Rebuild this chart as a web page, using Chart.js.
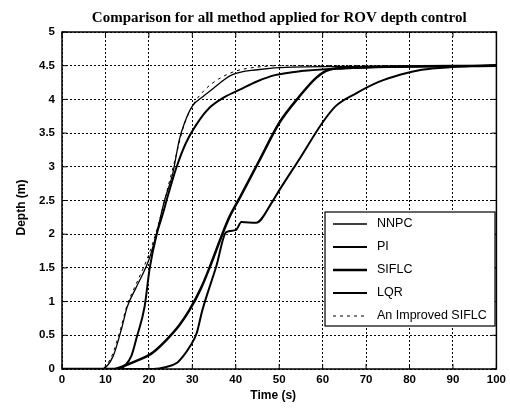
<!DOCTYPE html>
<html>
<head>
<meta charset="utf-8">
<script src="https://cdn.jsdelivr.net/npm/chart.js@4/dist/chart.umd.min.js"></script>
<style>
  html, body { margin: 0; padding: 0; background: #fff; }
  #wrap { width: 510px; height: 409px; }
</style>
</head>
<body>
<div id="wrap"><canvas id="depthChart" width="510" height="409"></canvas></div>
<script>
// series: time (s) and depth (m)
const nnpcTime = [0, 9, 11.7, 13.8, 15, 17, 20, 21.8, 23.6, 25.5, 27, 28.2, 30, 32.4, 34, 39, 45, 53, 100];
const nnpcDepth = [0, 0, 0.18, 0.62, 0.92, 1.2, 1.62, 2.02, 2.5, 2.9, 3.4, 3.65, 3.9, 4.04, 4.12, 4.36, 4.44, 4.48, 4.5];

const piTime = [0, 13, 14.5, 16, 17.2, 19, 20.2, 21.8, 23.2, 24.5, 26.4, 28.5, 31.7, 34, 37, 40.8, 45, 49, 55, 65, 75, 100];
const piDepth = [0, 0, 0.05, 0.2, 0.47, 0.92, 1.5, 2.0, 2.3, 2.6, 3.0, 3.35, 3.7, 3.88, 4.02, 4.14, 4.27, 4.36, 4.42, 4.46, 4.48, 4.5];

const siflcTime = [0, 12, 14.8, 18.6, 21, 24, 27, 29.4, 32, 34, 36.9, 38.5, 41, 45.4, 50, 54.6, 58.5, 61.5, 66, 100];
const siflcDepth = [0, 0, 0.06, 0.16, 0.25, 0.43, 0.65, 0.88, 1.2, 1.51, 2.0, 2.25, 2.55, 3.09, 3.65, 4.04, 4.32, 4.44, 4.47, 4.5];

const lqrTime = [0, 21, 24, 26.4, 28, 29.4, 31, 32.3, 35.5, 37.8, 40, 41.3, 44.7, 48.4, 50, 55, 59.9, 63, 67.7, 72.9, 78, 82.8, 89.7, 100];
const lqrDepth = [0, 0, 0.03, 0.09, 0.2, 0.33, 0.53, 0.87, 1.52, 2.03, 2.06, 2.18, 2.17, 2.48, 2.65, 3.15, 3.65, 3.9, 4.09, 4.26, 4.37, 4.44, 4.48, 4.51];

const impTime = [0, 9, 11.5, 13.5, 15, 17, 20, 22, 24, 26, 28, 30, 33, 36, 40, 45, 50, 100];
const impDepth = [0, 0, 0.2, 0.6, 0.95, 1.25, 1.7, 2.1, 2.6, 3.1, 3.6, 3.9, 4.15, 4.3, 4.42, 4.48, 4.5, 4.5];

const seriesLabels = ["NNPC", "PI", "SIFLC", "LQR", "An Improved SIFLC"];
const xTicks = [0, 10, 20, 30, 40, 50, 60, 70, 80, 90, 100];
const yTicks = [0, 0.5, 1, 1.5, 2, 2.5, 3, 3.5, 4, 4.5, 5];

const toPoints = (xs, ys) => xs.map((x, i) => ({ x: x, y: ys[i] }));

const styles = [
    { w: 1.3, dash: [] },
    { w: 2, dash: [] },
    { w: 2.5, dash: [] },
    { w: 2, dash: [] },
    { w: 1, dash: [3, 4] }
];
const pointSets = [
    toPoints(nnpcTime, nnpcDepth),
    toPoints(piTime, piDepth),
    toPoints(siflcTime, siflcDepth),
    toPoints(lqrTime, lqrDepth),
    toPoints(impTime, impDepth)
];

const datasets = seriesLabels.map((label, i) => ({
    label: label,
    data: pointSets[i],
    borderColor: "#000",
    borderWidth: styles[i].w,
    borderDash: styles[i].dash,
    pointRadius: 0,
    fill: false,
    cubicInterpolationMode: "monotone"
}));

const sans = "'Liberation Sans', Arial, sans-serif";

const frame = {
    id: "frame",
    afterDatasetsDraw(chart) {
        const { ctx, chartArea: a, scales } = chart;
        ctx.save();
        // axes box
        ctx.strokeStyle = "#000";
        ctx.lineWidth = 1.5;
        ctx.setLineDash([]);
        ctx.strokeRect(a.left, a.top, a.right - a.left, a.bottom - a.top);
        // inward ticks
        ctx.lineWidth = 1;
        xTicks.forEach(v => {
            const px = scales.x.getPixelForValue(v);
            ctx.beginPath();
            ctx.moveTo(px, a.bottom); ctx.lineTo(px, a.bottom - 5);
            ctx.moveTo(px, a.top); ctx.lineTo(px, a.top + 5);
            ctx.stroke();
        });
        yTicks.forEach(v => {
            const py = scales.y.getPixelForValue(v);
            ctx.beginPath();
            ctx.moveTo(a.left, py); ctx.lineTo(a.left + 5, py);
            ctx.moveTo(a.right, py); ctx.lineTo(a.right - 5, py);
            ctx.stroke();
        });

        // legend box
        const lx = 325, ly = 212, lw = 170, lh = 114;
        ctx.fillStyle = "#fff";
        ctx.fillRect(lx, ly, lw, lh);
        ctx.strokeStyle = "#000";
        ctx.lineWidth = 1.2;
        ctx.strokeRect(lx, ly, lw, lh);
        ctx.font = "12.5px " + sans;
        ctx.textBaseline = "middle";
        ctx.fillStyle = "#000";
        seriesLabels.forEach((label, i) => {
            const y = ly + 12 + i * 23;
            ctx.beginPath();
            ctx.lineWidth = styles[i].w;
            ctx.setLineDash(styles[i].dash);
            ctx.moveTo(333, y);
            ctx.lineTo(367, y);
            ctx.stroke();
            ctx.setLineDash([]);
            ctx.fillText(label, 377, y);
        });

        // title and axis titles
        ctx.textAlign = "center";
        ctx.textBaseline = "alphabetic";
        ctx.font = "bold 15px 'Liberation Serif', 'Times New Roman', serif";
        ctx.fillText("Comparison for all method applied for ROV depth control", (a.left + a.right) / 2, 22);
        ctx.font = "bold 12px " + sans;
        ctx.fillText("Time (s)", (a.left + a.right) / 2 - 6, 399);
        ctx.translate(25, (a.top + a.bottom) / 2 + 7);
        ctx.rotate(-Math.PI / 2);
        ctx.fillText("Depth (m)", 0, 0);
        ctx.restore();
    }
};

new Chart(document.getElementById("depthChart"), {
    type: "line",
    data: { datasets },
    options: {
        responsive: false,
        animation: false,
        layout: { padding: { left: 0, top: 32, right: 12, bottom: 0 } },
        plugins: { legend: { display: false }, title: { display: false }, tooltip: { enabled: false } },
        scales: {
            x: {
                type: "linear", min: 0, max: 100,
                afterFit: s => { s.height = 40; },
                afterBuildTicks: s => { s.ticks = xTicks.map(v => ({ value: v })); },
                ticks: { color: "#000", padding: 4, maxRotation: 0, callback: v => String(v), font: { family: sans, size: 11.5, weight: "bold" } },
                grid: { color: "#000", lineWidth: 1, drawTicks: false },
                border: { display: false, dash: [2, 2] }
            },
            y: {
                type: "linear", min: 0, max: 5,
                afterFit: s => { s.width = 62; },
                afterBuildTicks: s => { s.ticks = yTicks.map(v => ({ value: v })); },
                ticks: { color: "#000", padding: 7, callback: v => String(v), font: { family: sans, size: 11.5, weight: "bold" } },
                grid: { color: "#000", lineWidth: 1, drawTicks: false },
                border: { display: false, dash: [2, 2] }
            }
        }
    },
    plugins: [frame]
});
</script>
</body>
</html>
